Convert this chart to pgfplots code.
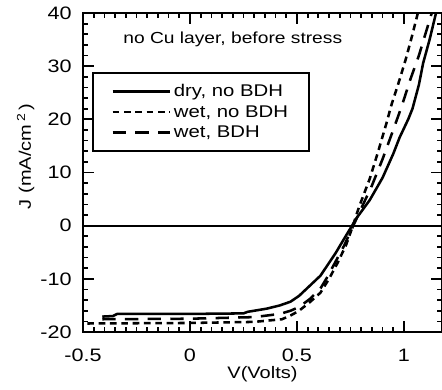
\documentclass[border=0pt]{standalone}
\usepackage{pgfplots}
\pgfplotsset{compat=1.18}
\usepackage{fontspec}
\setmainfont[FakeStretch=1.2]{Liberation Sans}
\begin{document}
\begin{tikzpicture}
\begin{axis}[
  name=main,
  scale only axis, width=269.25pt, height=239.25pt,
  xmin=-0.5, xmax=1.178, ymin=-20, ymax=40,
  xtick={-0.5,0,0.5,1}, ytick={-20,-10,0,10,20,30,40},
  minor x tick num=9, minor y tick num=4,
  tick align=inside, major tick length=8pt, minor tick length=4pt,
  every tick/.style={black, line width=1.3pt},
  axis line style={line width=2.2pt},
  /pgf/number format/assume math mode=true,
  tick label style={font=\fontsize{13.5}{15}\selectfont},
  xticklabel style={yshift=-9pt},
  yticklabel style={xshift=-5pt},
  xlabel={V(Volts)},
  ylabel={J (mA/cm\,\textsuperscript{2}\,)},
  label style={font=\fontsize{12.5}{14}\selectfont},
  xlabel style={at={(axis description cs:0.5,-0.132)}, anchor=center},
  ylabel style={at={(axis description cs:-0.16,0.55)}, anchor=center},
  legend style={at={(axis description cs:0.026,0.815)}, anchor=north west,
    draw=black, line width=1.6pt, inner xsep=13.5pt, inner ysep=6.5pt,
    font=\fontsize{12.7}{14}\selectfont, row sep=1pt,
    /tikz/every even column/.append style={column sep=0pt}},
  legend cell align=left,
  legend image code/.code={\draw[#1] (0pt,0pt) -- (43pt,0pt);},
]
\addplot[black, line width=1.9pt] coordinates {
(-0.41,-17.1) (-0.36,-17.0) (-0.34,-16.6) (0.0,-16.6) (0.25,-16.5) (0.27,-16.2)
(0.36,-15.6) (0.42,-15.0) (0.47,-14.3) (0.51,-13.2) (0.56,-11.3) (0.61,-9.4)
(0.64,-7.6) (0.68,-5.2) (0.72,-2.5) (0.75,-0.5) (0.78,1.5) (0.84,4.8) (0.90,9.0)
(0.95,13.5) (0.98,16.6) (1.02,20.0) (1.04,22.0) (1.07,26.5) (1.09,30.6)
(1.12,35.0) (1.15,40.0)};
\addlegendentry{dry, no BDH}
\addplot[black, line width=1.9pt, dash pattern=on 5pt off 3.5pt] coordinates {
(-0.48,-18.4) (0.0,-18.3) (0.3,-18.1) (0.43,-17.6) (0.47,-16.9) (0.51,-16.0)
(0.56,-14.4) (0.61,-12.6) (0.65,-10.0) (0.69,-7.0) (0.73,-3.6) (0.76,-0.2)
(0.79,3.5) (0.84,8.8) (0.88,14.0) (0.92,19.5) (0.94,22.5) (0.98,27.5)
(1.01,31.5) (1.04,36.0) (1.065,40.0)};
\addlegendentry{wet, no BDH}
\addplot[black, line width=1.9pt, dash pattern=on 10pt off 7pt] coordinates {
(-0.41,-17.6) (0.0,-17.5) (0.3,-17.2) (0.42,-16.6) (0.47,-16.0) (0.51,-15.3)
(0.56,-13.8) (0.61,-11.8) (0.64,-9.8) (0.68,-6.8) (0.72,-3.8) (0.76,-0.3)
(0.80,3.2) (0.85,7.5) (0.90,12.5) (0.95,18.0) (0.99,22.5) (1.03,27.5)
(1.07,32.0) (1.10,36.0) (1.13,40.0)};
\addlegendentry{wet, BDH}
\addplot[black, line width=1.6pt, forget plot] coordinates {(-0.5,0) (1.178,0)};
\node[font=\fontsize{12}{14}\selectfont] at (axis cs:0.2,35) {no Cu layer, before stress};
\end{axis}
\draw[line width=2.2pt] (main.south west) rectangle (main.north east);
\pgfresetboundingbox
\path (-62.25pt,-42.75pt) rectangle (269.25pt,249pt);
\end{tikzpicture}
\end{document}
